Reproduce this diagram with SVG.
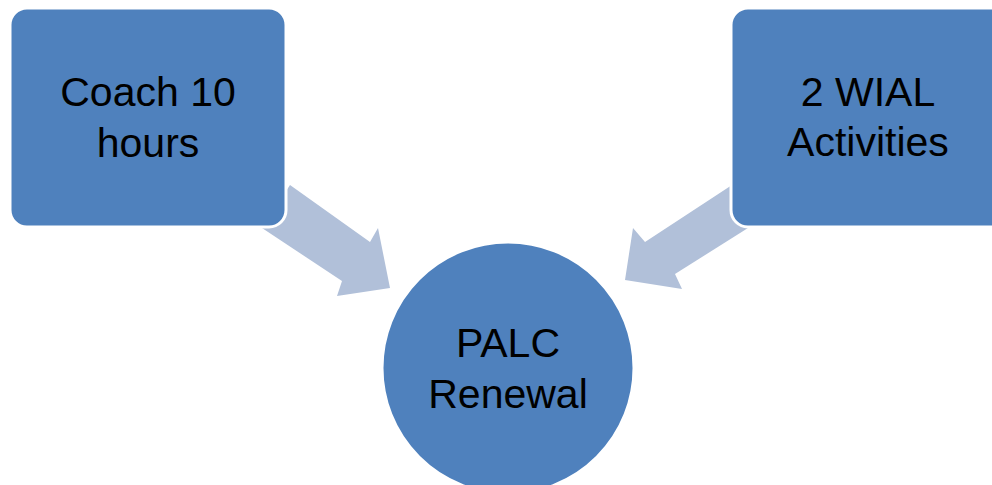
<svg xmlns="http://www.w3.org/2000/svg" width="992" height="485" viewBox="0 0 992 485">
<style>
.node{fill:#4F81BD;stroke:#FFFFFF;stroke-width:3}
.arrow{fill:#B1C0D9;stroke:none}
.lbl{font-family:"Liberation Sans","Open Sans",Arial,sans-serif;font-size:41px;fill:#000000;text-anchor:middle}
</style>
<rect width="992" height="485" fill="#FFFFFF"/>
<g id="connectors">
<polygon class="arrow" points="290,185 370,242 378,228 390,288 337,296 342,281 262,228"/>
<polygon class="arrow" points="732,185 645,242 633,228 625,280 682,289 675,274 748,228"/>
</g>
<g id="node-coach">
<rect class="node" x="10" y="8" width="276" height="219" rx="17" ry="17"/>
<text class="lbl" x="148" y="106">Coach 10</text>
<text class="lbl" x="148" y="157">hours</text>
</g>
<g id="node-wial">
<rect class="node" x="731" y="8" width="280" height="219" rx="17" ry="17"/>
<text class="lbl" x="868" y="106">2 WIAL</text>
<text class="lbl" x="868" y="156">Activities</text>
</g>
<g id="node-palc">
<circle class="node" cx="508" cy="368" r="126" stroke="none"/>
<text class="lbl" x="508" y="357">PALC</text>
<text class="lbl" x="508" y="408">Renewal</text>
</g>
</svg>
